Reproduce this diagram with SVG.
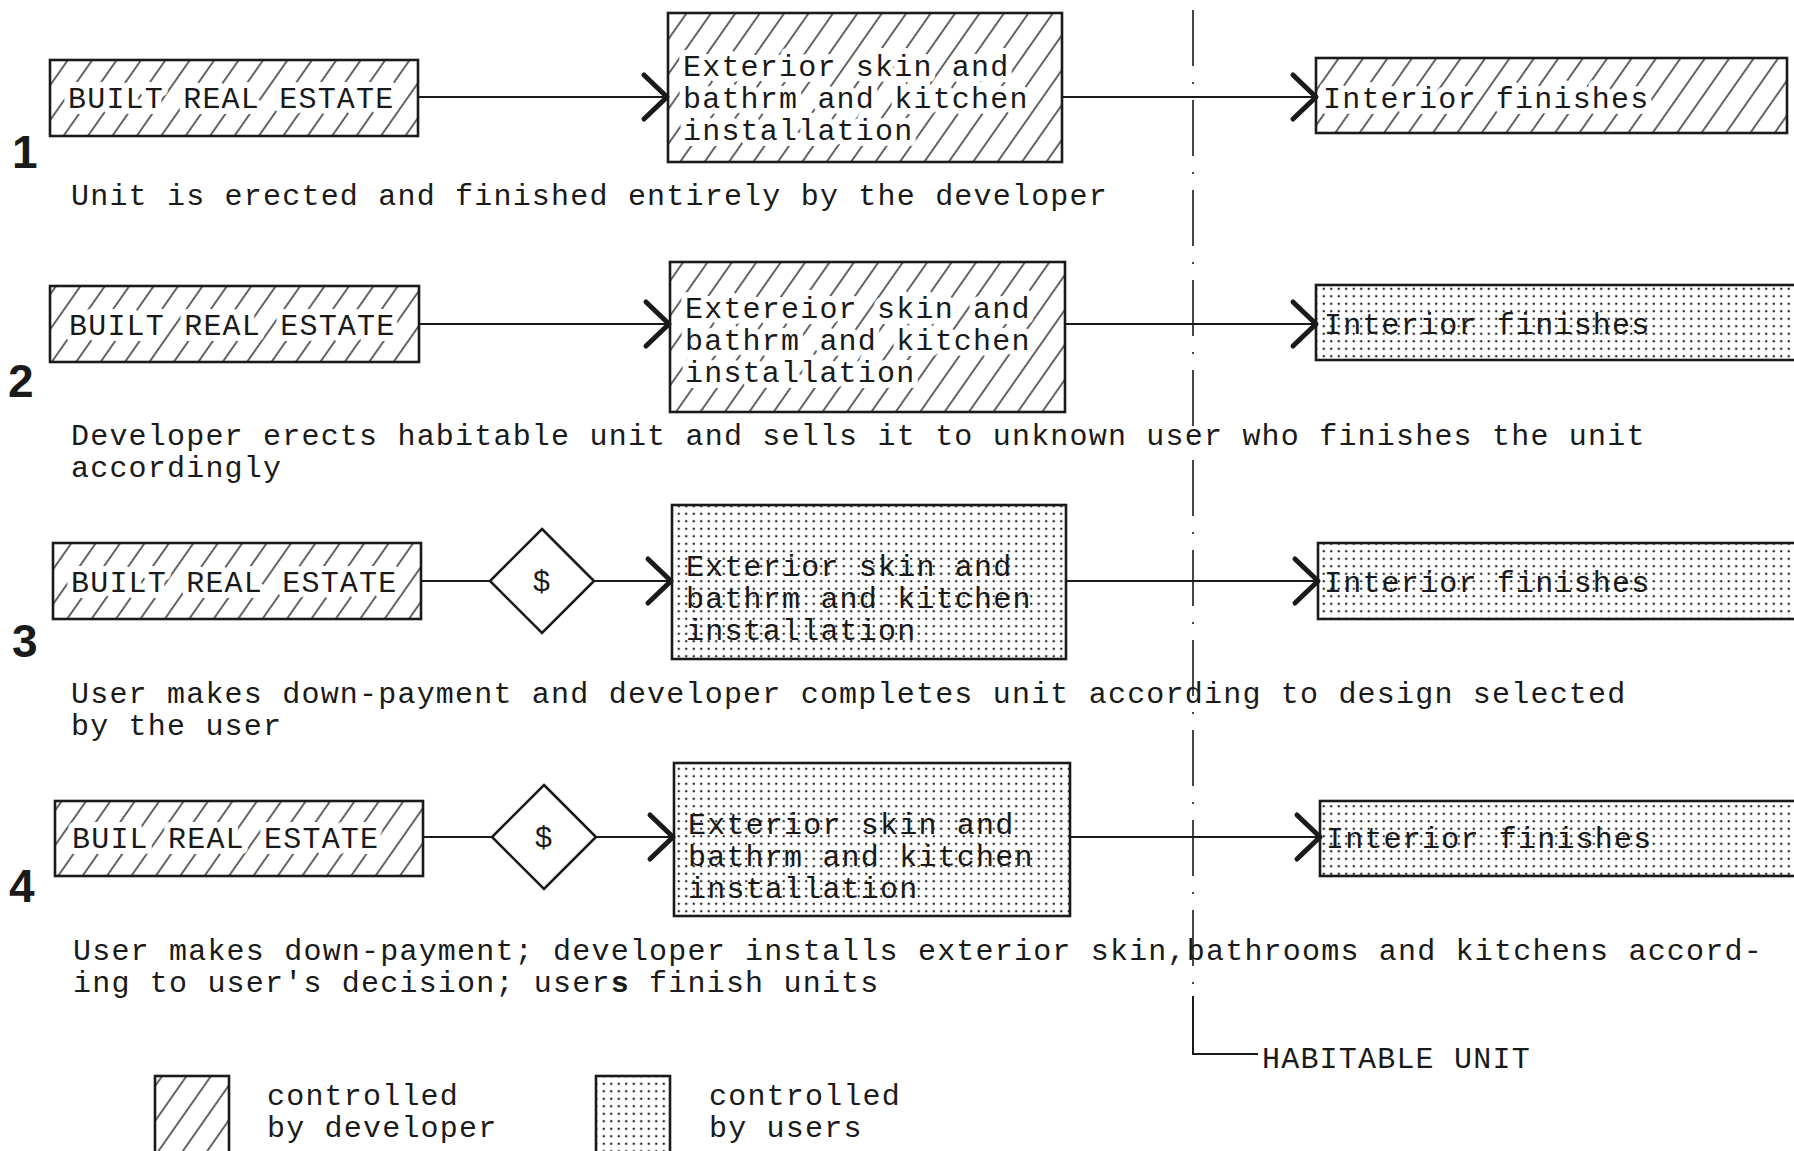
<svg xmlns="http://www.w3.org/2000/svg" width="1794" height="1151" viewBox="0 0 1794 1151">
  <defs>
    <pattern id="hatch" patternUnits="userSpaceOnUse" width="20" height="20" patternTransform="rotate(35)">
      <line x1="10" y1="-2" x2="10" y2="22" stroke="#222" stroke-width="1.4"/>
    </pattern>
    <pattern id="dots" patternUnits="userSpaceOnUse" width="7.5" height="7.5">
      <circle cx="3.75" cy="3.75" r="1.25" fill="#222"/>
    </pattern>
    <marker id="chev" markerUnits="userSpaceOnUse" viewBox="-28 -26 32 52" refX="0" refY="0" markerWidth="32" markerHeight="52" orient="auto">
      <path d="M-23,-22 L0,0 L-23,22" fill="none" stroke="#1a1a1a" stroke-width="5" stroke-linecap="round" stroke-linejoin="round"/>
    </marker>
  </defs>
  <style>
    .box { stroke: #1a1a1a; stroke-width: 2.6; }
    .dev { fill: url(#hatch); }
    .usr { fill: url(#dots); }
    .t { font-family: "Liberation Mono", "Courier New", monospace; font-size: 30px; letter-spacing: 1.2px; fill: #1a1a1a; }
    .halo { stroke: #fff; stroke-width: 12px; stroke-linejoin: round; paint-order: stroke; }
    .num { font-family: "Liberation Sans", Arial, Helvetica, sans-serif; font-weight: bold; font-size: 46px; fill: #1a1a1a; }
    .conn { stroke: #1a1a1a; stroke-width: 2; fill: none; }
    .dia { fill: #fff; stroke: #1a1a1a; stroke-width: 2.6; }
  </style>
  <rect width="1794" height="1151" fill="#fff"/>

  <!-- habitable unit divider -->
  <g id="habitable-unit">
    <line x1="1193" y1="10" x2="1193" y2="990" stroke="#1a1a1a" stroke-width="1.6" stroke-dasharray="56 16 2 16"/>
    <polyline points="1193,996 1193,1054 1258,1054" fill="none" stroke="#1a1a1a" stroke-width="2"/>
    <text class="t" x="1262" y="1068">HABITABLE UNIT</text>
  </g>

  <!-- connectors -->
  <g id="connectors">
    <line class="conn" x1="418" y1="97" x2="667" y2="97" marker-end="url(#chev)"/>
    <line class="conn" x1="1062" y1="97" x2="1316" y2="97" marker-end="url(#chev)"/>
    <line class="conn" x1="419" y1="324" x2="669" y2="324" marker-end="url(#chev)"/>
    <line class="conn" x1="1065" y1="324" x2="1316" y2="324" marker-end="url(#chev)"/>
    <line class="conn" x1="421" y1="581" x2="490" y2="581"/>
    <line class="conn" x1="594" y1="581" x2="671" y2="581" marker-end="url(#chev)"/>
    <line class="conn" x1="1066" y1="581" x2="1318" y2="581" marker-end="url(#chev)"/>
    <line class="conn" x1="423" y1="837" x2="492" y2="837"/>
    <line class="conn" x1="596" y1="837" x2="673" y2="837" marker-end="url(#chev)"/>
    <line class="conn" x1="1070" y1="837" x2="1320" y2="837" marker-end="url(#chev)"/>
  </g>

  <!-- Row 1 -->
  <g id="row1-built">
    <rect class="box dev" x="50" y="60" width="368" height="76"/>
    <text class="t halo" x="68" y="108">BUILT REAL ESTATE</text>
  </g>
  <g id="row1-exterior">
    <rect class="box dev" x="668" y="13" width="394" height="149"/>
    <text class="t halo" x="683" y="76">Exterior skin and</text>
    <text class="t halo" x="683" y="108">bathrm and kitchen</text>
    <text class="t halo" x="683" y="140">installation</text>
  </g>
  <g id="row1-interior">
    <rect class="box dev" x="1316" y="58" width="471" height="75"/>
    <text class="t halo" x="1323" y="108">Interior finishes</text>
  </g>
  <g id="row1-label">
    <text class="num" x="12" y="168">1</text>
    <text class="t" x="71" y="205">Unit is erected and finished entirely by the developer</text>
  </g>

  <!-- Row 2 -->
  <g id="row2-built">
    <rect class="box dev" x="50" y="286" width="369" height="76"/>
    <text class="t halo" x="69" y="335">BUILT REAL ESTATE</text>
  </g>
  <g id="row2-exterior">
    <rect class="box dev" x="670" y="262" width="395" height="150"/>
    <text class="t halo" x="685" y="318">Extereior skin and</text>
    <text class="t halo" x="685" y="350">bathrm and kitchen</text>
    <text class="t halo" x="685" y="382">installation</text>
  </g>
  <g id="row2-interior">
    <rect class="box usr" x="1316" y="285" width="480" height="75"/>
    <text class="t" x="1324" y="334">Interior finishes</text>
  </g>
  <g id="row2-label">
    <text class="num" x="8" y="397">2</text>
    <text class="t" x="71" y="445">Developer erects habitable unit and sells it to unknown user who finishes the unit</text>
    <text class="t" x="71" y="477">accordingly</text>
  </g>

  <!-- Row 3 -->
  <g id="row3-built">
    <rect class="box dev" x="53" y="543" width="368" height="76"/>
    <text class="t halo" x="71" y="592">BUILT REAL ESTATE</text>
  </g>
  <g id="row3-payment">
    <polygon class="dia" points="542,529 594,581 542,633 490,581"/>
    <text class="t" x="542" y="591" text-anchor="middle" font-size="26" letter-spacing="0">$</text>
  </g>
  <g id="row3-exterior">
    <rect class="box usr" x="672" y="505" width="394" height="154"/>
    <text class="t" x="686" y="576">Exterior skin and</text>
    <text class="t" x="686" y="608">bathrm and kitchen</text>
    <text class="t" x="686" y="640">installation</text>
  </g>
  <g id="row3-interior">
    <rect class="box usr" x="1318" y="543" width="478" height="76"/>
    <text class="t" x="1324" y="592">Interior finishes</text>
  </g>
  <g id="row3-label">
    <text class="num" x="12" y="657">3</text>
    <text class="t" x="71" y="703">User makes down-payment and developer completes unit according to design selected</text>
    <text class="t" x="71" y="735">by the user</text>
  </g>

  <!-- Row 4 -->
  <g id="row4-built">
    <rect class="box dev" x="55" y="801" width="368" height="75"/>
    <text class="t halo" x="72" y="848">BUIL REAL ESTATE</text>
  </g>
  <g id="row4-payment">
    <polygon class="dia" points="544,785 596,837 544,889 492,837"/>
    <text class="t" x="544" y="847" text-anchor="middle" font-size="26" letter-spacing="0">$</text>
  </g>
  <g id="row4-exterior">
    <rect class="box usr" x="674" y="763" width="396" height="153"/>
    <text class="t" x="688" y="834">Exterior skin and</text>
    <text class="t" x="688" y="866">bathrm and kitchen</text>
    <text class="t" x="688" y="898">installation</text>
  </g>
  <g id="row4-interior">
    <rect class="box usr" x="1320" y="801" width="476" height="75"/>
    <text class="t" x="1326" y="848">Interior finishes</text>
  </g>
  <g id="row4-label">
    <text class="num" x="9" y="902">4</text>
    <text class="t" x="73" y="960">User makes down-payment; developer installs exterior skin,bathrooms and kitchens accord-</text>
    <text class="t" x="73" y="992">ing to user's decision; user<tspan font-weight="bold">s</tspan> finish units</text>
  </g>

  <!-- Legend -->
  <g id="legend-developer">
    <rect class="box dev" x="155" y="1076" width="74" height="90"/>
    <text class="t" x="267" y="1105">controlled</text>
    <text class="t" x="267" y="1137">by developer</text>
  </g>
  <g id="legend-users">
    <rect class="box usr" x="596" y="1076" width="74" height="90"/>
    <text class="t" x="709" y="1105">controlled</text>
    <text class="t" x="709" y="1137">by users</text>
  </g>
</svg>
